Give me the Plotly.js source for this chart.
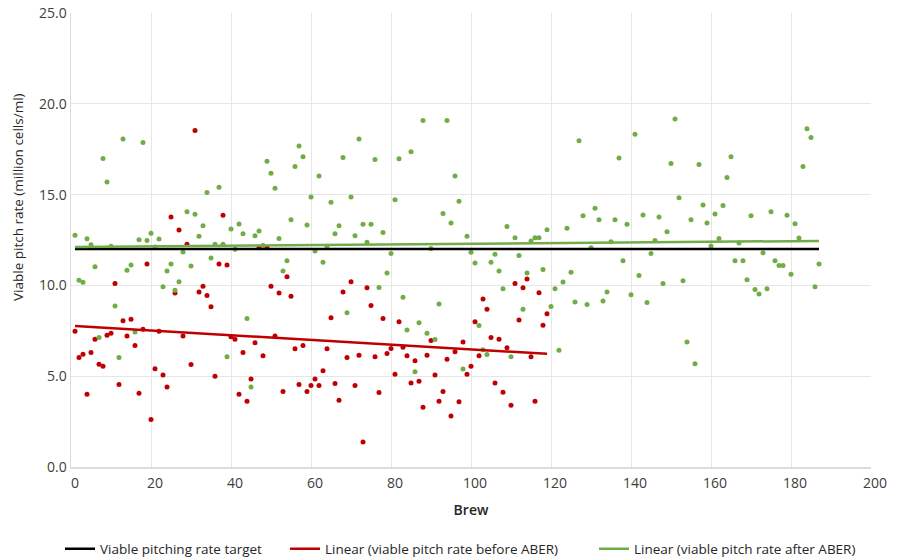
<!DOCTYPE html>
<html>
<head>
<meta charset="utf-8">
<script src="https://cdn.plot.ly/plotly-3.0.1.min.js"></script>
<style>html,body{margin:0;padding:0;background:#fff;}#chart{width:898px;height:560px;}</style>
</head>
<body>
<div id="chart"></div>
<script>
// Viable pitch rate (million cells/ml) per brew, before ABER (brews 1..119)
const beforeABER = [
  7.47, 6.03, 6.21, 4.00, 6.31, 7.04, 5.66, 5.55, 7.26, 7.37,
  10.11, 4.54, 8.05, 7.22, 8.13, 6.69, 4.06, 7.59, 11.18, 2.61,
  5.41, 7.47, 5.06, 4.40, 13.77, 9.58, 13.05, 7.22, 12.26, 5.64,
  18.53, 9.63, 9.96, 9.45, 8.83, 5.00, 11.18, 13.86, 11.12, 7.17,
  7.03, 4.00, 6.31, 3.62, 4.84, 6.84, 12.08, 6.12, 12.08, 9.96,
  7.22, 9.58, 4.16, 10.48, 9.40, 6.51, 4.54, 6.69, 4.16, 4.49,
  4.84, 4.49, 5.30, 6.51, 8.22, 4.60, 3.68, 9.63, 6.03, 10.20,
  4.49, 6.16, 1.38, 9.87, 8.90, 6.07, 4.10, 8.18, 6.25, 6.53,
  5.11, 8.00, 6.60, 6.12, 4.63, 5.85, 4.72, 3.29, 6.16, 6.97,
  5.06, 3.62, 4.16, 5.94, 2.81, 6.34, 3.59, 6.89, 5.11, 5.55,
  8.00, 6.12, 9.25, 8.68, 7.13, 4.63, 7.04, 4.12, 6.56, 3.40,
  10.11, 8.09, 9.87, 10.35, 6.07, 3.62, 9.60, 7.80, 8.44
];
// Viable pitch rate after ABER (brews 1..187)
const afterABER = [
  12.76, 10.28, 10.17, 12.57, 12.24, 11.03, 7.13, 16.99, 15.70, 12.15,
  8.86, 6.03, 18.06, 10.83, 11.12, 7.43, 12.52, 17.87, 12.47, 12.87,
  12.12, 12.56, 9.93, 10.79, 11.18, 9.73, 10.20, 11.84, 14.05, 11.07,
  13.92, 12.70, 13.28, 15.11, 11.51, 12.26, 15.41, 12.26, 6.07, 13.11,
  11.99, 13.38, 12.85, 8.18, 4.41, 12.74, 13.00, 12.20, 16.84, 16.18,
  15.35, 12.58, 10.79, 11.36, 13.62, 16.55, 17.67, 17.08, 13.33, 14.87,
  11.90, 16.03, 11.27, 12.15, 14.58, 12.85, 13.28, 17.04, 8.49, 14.87,
  12.74, 18.06, 13.37, 12.38, 13.37, 16.93, 9.89, 12.91, 10.68, 11.75,
  14.72, 16.97, 9.35, 7.54, 17.36, 5.24, 7.94, 19.08, 7.37, 12.03,
  7.02, 8.97, 13.96, 19.08, 13.44, 16.03, 14.63, 5.40, 12.71, 11.82,
  11.23, 7.79, 6.45, 6.20, 11.27, 11.71, 10.79, 9.82, 13.24, 6.07,
  12.63, 11.64, 8.68, 10.68, 12.45, 12.63, 12.63, 10.88, 13.06, 8.84,
  9.82, 6.43, 10.19, 13.15, 10.73, 9.09, 17.96, 13.83, 8.95, 12.08,
  14.25, 13.62, 9.14, 9.63, 12.41, 13.62, 17.02, 11.36, 13.37, 9.49,
  18.33, 10.55, 13.87, 9.06, 11.75, 12.47, 13.77, 10.11, 12.96, 16.71,
  19.16, 14.82, 10.26, 6.89, 13.62, 5.69, 16.66, 14.43, 13.44, 12.17,
  13.93, 12.58, 14.40, 15.94, 17.08, 11.36, 12.34, 11.36, 10.31, 13.83,
  9.78, 9.52, 11.80, 9.82, 14.05, 11.36, 11.10, 11.10, 13.86, 10.61,
  13.39, 12.61, 16.55, 18.63, 18.15, 9.93, 11.18
];
const targetRate = 12.0;
const xTicks = [0, 20, 40, 60, 80, 100, 120, 140, 160, 180, 200];
const yTicks = [0, 5, 10, 15, 20, 25];
const seriesNames = [
  'Viable pitching rate target',
  'Linear (viable pitch rate before ABER)',
  'Linear (viable pitch rate after ABER)'
];

const brewsBefore = beforeABER.map((_, i) => i + 1);
const brewsAfter = afterABER.map((_, i) => i + 1);

function linearFit(xs, ys) {
  const n = xs.length;
  let sx = 0, sy = 0, sxx = 0, sxy = 0;
  for (let i = 0; i < n; i++) { sx += xs[i]; sy += ys[i]; sxx += xs[i]*xs[i]; sxy += xs[i]*ys[i]; }
  const b = (n*sxy - sx*sy) / (n*sxx - sx*sx);
  const a = (sy - b*sx) / n;
  const x0 = xs[0], x1 = xs[n-1];
  return {x: [x0, x1], y: [a + b*x0, a + b*x1]};
}
const fitBefore = linearFit(brewsBefore, beforeABER);
const fitAfter = linearFit(brewsAfter, afterABER);

const RED = '#c00000', GREEN = '#70ad47';
const traces = [
  {x: brewsBefore, y: beforeABER, type: 'scatter', mode: 'markers', showlegend: false,
   marker: {color: RED, size: 5}, hoverinfo: 'skip'},
  {x: brewsAfter, y: afterABER, type: 'scatter', mode: 'markers', showlegend: false,
   marker: {color: GREEN, size: 5}, hoverinfo: 'skip'},
  {x: [brewsAfter[0], brewsAfter[brewsAfter.length-1]], y: [targetRate, targetRate], type: 'scatter', mode: 'lines',
   name: seriesNames[0], legend: 'legend', line: {color: '#000000', width: 2.5}},
  {x: fitBefore.x, y: fitBefore.y, type: 'scatter', mode: 'lines',
   name: seriesNames[1], legend: 'legend2', line: {color: RED, width: 2.5}},
  {x: fitAfter.x, y: fitAfter.y, type: 'scatter', mode: 'lines',
   name: seriesNames[2], legend: 'legend3', line: {color: GREEN, width: 2.5}}
];

function legendAt(px) {
  return {xref: 'container', yref: 'container', x: px / 898, xanchor: 'left',
          y: 11 / 560, yanchor: 'middle', orientation: 'h',
          font: {size: 13.5, color: '#262626'}, itemwidth: 30, bgcolor: 'rgba(0,0,0,0)'};
}

const layout = {
  width: 898, height: 560,
  margin: {l: 71, r: 27, t: 13, b: 93},
  paper_bgcolor: '#ffffff', plot_bgcolor: '#ffffff',
  font: {family: 'Open Sans, sans-serif', size: 14, color: '#404040'},
  showlegend: true,
  legend: legendAt(60),
  legend2: legendAt(285),
  legend3: legendAt(594),
  xaxis: {
    range: [0, 200], tickvals: xTicks, ticktext: xTicks.map(String),
    showgrid: true, gridcolor: '#e6e6e6', gridwidth: 1, zeroline: false,
    showline: true, linecolor: '#dcdcdc', linewidth: 1.5, ticks: '',
    tickfont: {size: 14, color: '#404040'}, ticklabelshift: 4, ticklabelstandoff: 3,
    title: {text: 'Brew', font: {size: 14, color: '#262626', weight: 600}, standoff: 14},
    automargin: false
  },
  yaxis: {
    range: [0, 25], tickvals: yTicks, ticktext: yTicks.map(v => v.toFixed(1)),
    showgrid: true, gridcolor: '#e6e6e6', gridwidth: 1, zeroline: false,
    showline: true, linecolor: '#dcdcdc', linewidth: 1.5, ticks: '',
    tickfont: {size: 14, color: '#404040'},
    automargin: false
  },
  annotations: [{
    text: 'Viable pitch rate (million cells/ml)', textangle: -90,
    xref: 'paper', yref: 'paper', x: (18 - 71) / 800, y: (467 - 197) / 454,
    xanchor: 'center', yanchor: 'middle', showarrow: false,
    font: {size: 13.5, color: '#262626', weight: 500}
  }]
};
Plotly.newPlot('chart', traces, layout, {displayModeBar: false, staticPlot: true});
</script>
</body>
</html>
